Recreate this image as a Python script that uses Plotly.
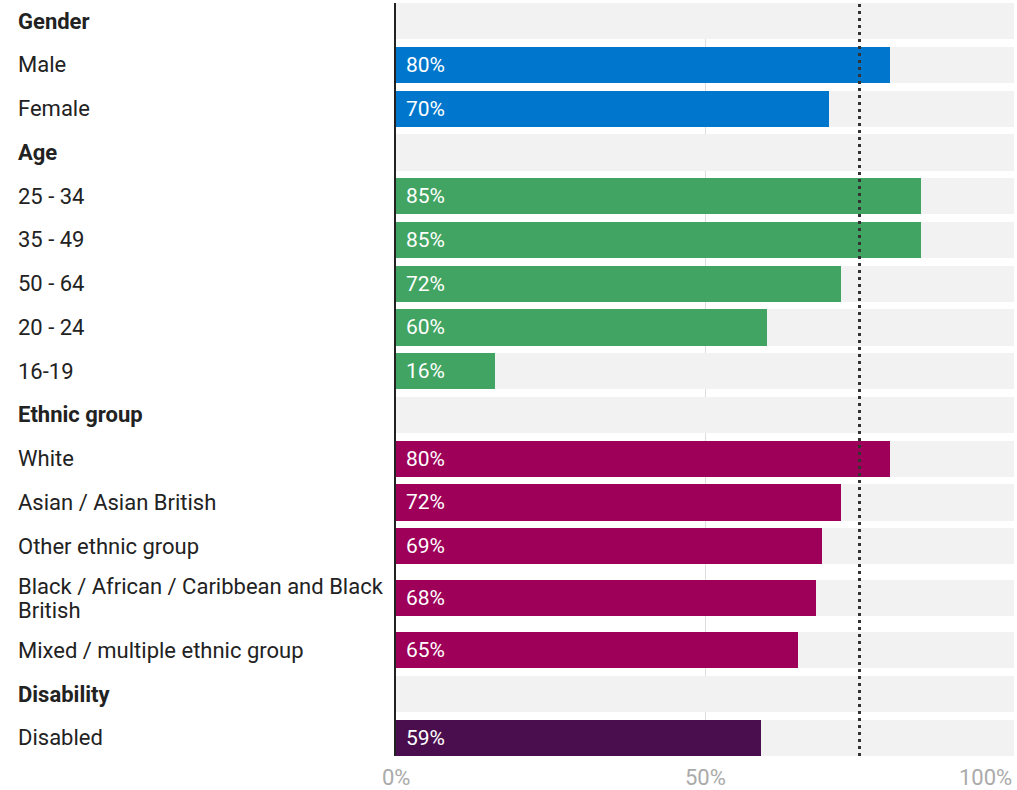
import textwrap
import plotly.graph_objects as go

# ---- data ----
group_names = ["Gender", "Age", "Ethnic group", "Disability"]
gender_labels = ["Male", "Female"]
gender_values = [80, 70]
age_labels = ["25 - 34", "35 - 49", "50 - 64", "20 - 24", "16-19"]
age_values = [85, 85, 72, 60, 16]
ethnic_labels = ["White", "Asian / Asian British", "Other ethnic group",
                 "Black / African / Caribbean and Black British",
                 "Mixed / multiple ethnic group"]
ethnic_values = [80, 72, 69, 68, 65]
disability_labels = ["Disabled"]
disability_values = [59]
group_colors = ["#0077CC", "#41A462", "#9E0059", "#4A0E4E"]
target_value = 75
tick_values = [0, 50, 100]
tick_labels = ["0%", "50%", "100%"]

groups = [
    (group_names[0], gender_labels, gender_values, group_colors[0]),
    (group_names[1], age_labels, age_values, group_colors[1]),
    (group_names[2], ethnic_labels, ethnic_values, group_colors[2]),
    (group_names[3], disability_labels, disability_values, group_colors[3]),
]

# ---- build rows (header rows + data rows) ----
rows = []  # (label lines, value or None, color, bold)
for name, labels, values, color in groups:
    rows.append(([name], None, None, True))
    for lab, val in zip(labels, values):
        rows.append((textwrap.wrap(lab, 38), val, color, False))

# vertical positions: wrapped rows take a little more room
heights = [1 + 0.38 * (len(r[0]) - 1) for r in rows]
ypos = [0.0]
for i in range(1, len(rows)):
    ypos.append(ypos[-1] + (heights[i - 1] + heights[i]) / 2)

FONT = "Roboto"
BAR_W = 0.83
LINE_H = 24  # px between wrapped label lines

fig = go.Figure()

# background bars
fig.add_trace(go.Bar(
    x=[100] * len(rows), y=ypos, orientation="h", width=BAR_W,
    marker=dict(color="#F2F2F2", line=dict(width=0)),
    hoverinfo="skip", showlegend=False,
))

# value bars
data_idx = [i for i, r in enumerate(rows) if r[1] is not None]
fig.add_trace(go.Bar(
    x=[rows[i][1] for i in data_idx], y=[ypos[i] for i in data_idx],
    orientation="h", width=BAR_W,
    marker=dict(color=[rows[i][2] for i in data_idx], line=dict(width=0)),
    showlegend=False,
))

annotations = []
for i, r in enumerate(rows):
    lines = r[0]
    n = len(lines)
    for k, line in enumerate(lines):
        label = f"<b>{line}</b>" if r[3] else line
        annotations.append(dict(
            x=0, xref="paper", xanchor="left", xshift=-380,
            y=ypos[i], yref="y", yanchor="middle",
            yshift=((n - 1) / 2 - k) * LINE_H,
            text=label, align="left", showarrow=False,
            font=dict(family=FONT, size=22, color="#222222"),
        ))
    if r[1] is not None:
        annotations.append(dict(
            x=0, xref="x", xanchor="left", xshift=8,
            y=ypos[i], yref="y", yanchor="middle",
            text=f"{r[1]}%", showarrow=False,
            font=dict(family=FONT, size=21, color="white"),
        ))

for v, t in zip(tick_values, tick_labels):
    annotations.append(dict(
        x=v, xref="x", xanchor="right" if v == 100 else "center",
        y=0, yref="paper", yanchor="top", yshift=-7,
        text=t, showarrow=False,
        font=dict(family=FONT, size=22, color="#AAAAAA"),
    ))

fig.add_shape(type="line", x0=target_value, x1=target_value, xref="x",
              y0=0, y1=1, yref="paper", layer="above",
              line=dict(color="#333333", width=3, dash="3px,4px"))

half = BAR_W / 2
fig.update_layout(
    width=1017, height=790,
    margin=dict(l=396, r=3, t=3, b=34),
    paper_bgcolor="white", plot_bgcolor="white",
    barmode="overlay", bargap=0,
    annotations=annotations,
    font=dict(family=FONT),
    xaxis=dict(range=[0, 100], tickvals=tick_values, showticklabels=False,
               showgrid=True, gridcolor="#DDDDDD", gridwidth=1,
               zeroline=False, showline=False, fixedrange=True),
    yaxis=dict(range=[ypos[-1] + half, -half], showticklabels=False,
               showgrid=False, zeroline=False, showline=True,
               linecolor="#222222", linewidth=2, fixedrange=True),
)

fig.write_html(
    "out.html",
    config={"displayModeBar": False},
    post_script="document.body.style.margin='0px';document.body.style.overflow='hidden';",
)
